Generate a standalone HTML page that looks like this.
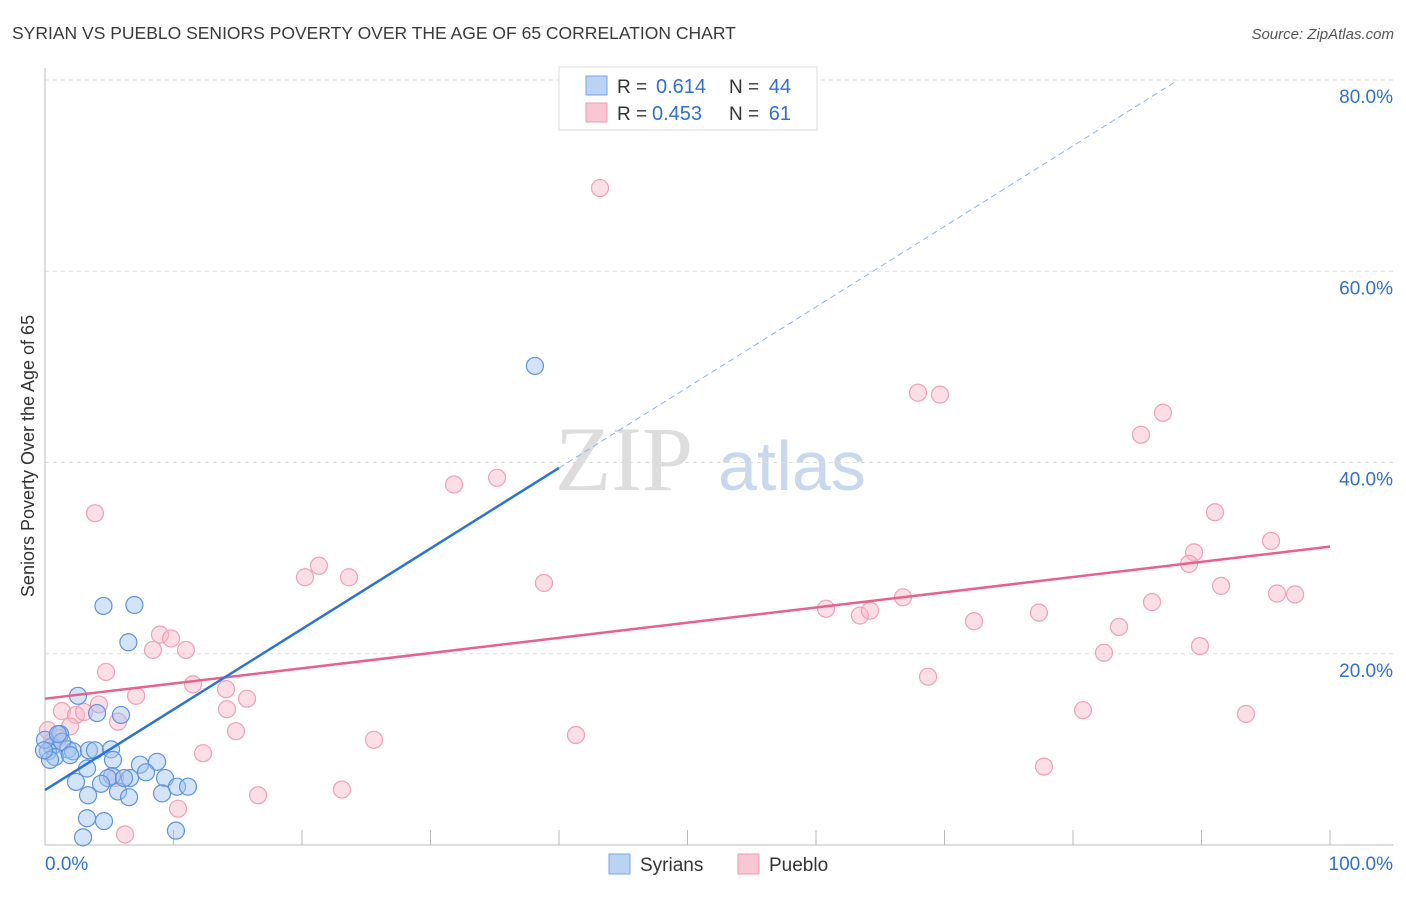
<!DOCTYPE html>
<html><head><meta charset="utf-8"><style>
body{margin:0;background:#fff;font-family:"Liberation Sans",sans-serif}
svg text{font-family:"Liberation Sans",sans-serif}
</style></head><body>
<svg id="c" width="1406" height="892">
<text x="12" y="39" font-size="17.5" fill="#3a3a3a">SYRIAN VS PUEBLO SENIORS POVERTY OVER THE AGE OF 65 CORRELATION CHART</text>
<text x="1394" y="39" font-size="15" fill="#555" font-style="italic" text-anchor="end">Source: ZipAtlas.com</text>
<text x="34" y="456" font-size="18" fill="#333" text-anchor="middle" transform="rotate(-90 34 456)">Seniors Poverty Over the Age of 65</text>
<text x="555" y="490" font-size="92" fill="#ddd" style="font-family:'Liberation Serif',serif">ZIP</text>
<text x="718" y="490" font-size="70" fill="#c8d8ee">atlas</text>
<g id="grid"></g><g id="marks"></g>
<g>
<rect x="559" y="67" width="258" height="63" fill="#fff" stroke="#ddd"/>
<rect x="586" y="76" width="21" height="19" fill="#b9d3f5" stroke="#7aa6e0"/>
<rect x="586" y="103" width="21" height="19" fill="#f9c6d4" stroke="#ef9ab2"/>
<text x="617" y="93" font-size="19" fill="#333">R =</text>
<text x="656" y="93" font-size="20" fill="#2f6fd6">0.614</text>
<text x="729" y="93" font-size="19" fill="#333">N =</text>
<text x="791" y="93" font-size="20" fill="#2f6fd6" text-anchor="end">44</text>
<text x="617" y="120" font-size="19" fill="#333">R =</text>
<text x="652" y="120" font-size="20" fill="#2f6fd6">0.453</text>
<text x="729" y="120" font-size="19" fill="#333">N =</text>
<text x="791" y="120" font-size="20" fill="#2f6fd6" text-anchor="end">61</text>
</g>
<g>
<rect x="609" y="854" width="21" height="20" fill="#b9d3f5" stroke="#7aa6e0"/>
<text x="640" y="871" font-size="19" fill="#333">Syrians</text>
<rect x="738" y="854" width="21" height="20" fill="#f9c6d4" stroke="#ef9ab2"/>
<text x="769" y="871" font-size="19" fill="#333">Pueblo</text>
</g>
</svg>
<script>
const yTicks=[20,40,60,80];
const xTickLabels=["0.0%","100.0%"];
const syrX=[4.55,6.96,6.49,2.57,4.05,5.91,1.17,0.54,1.79,0.23,0.78,2.18,3.42,3.89,5.14,5.29,3.27,7.39,8.72,5.21,6.61,4.9,2.41,4.36,7.86,9.34,5.68,3.35,3.27,4.59,6.54,9.11,10.27,11.13,2.96,10.19,38.13,0,0.39,1.32,1.95,1.01,-0.08,6.15];
const syrY=[25.0,25.1,21.2,15.6,13.8,13.6,11.6,10.3,10.0,9.8,9.2,9.8,9.9,9.9,10.0,8.9,8.0,8.4,8.7,7.2,7.0,7.0,6.6,6.4,7.6,7.0,5.6,5.2,2.8,2.5,5.0,5.4,6.1,6.1,0.8,1.5,50.1,11.0,8.9,10.8,9.4,11.6,9.9,7.0];
const pueX=[43.19,3.89,31.83,35.18,20.23,21.32,23.66,38.83,8.95,9.81,8.4,10.97,4.75,11.52,7.09,14.09,15.72,4.2,1.32,2.41,3.04,14.16,5.68,14.86,1.95,12.3,25.6,41.32,0.54,1.09,5.45,16.58,23.11,10.35,6.23,67.94,69.65,87.0,85.29,91.05,95.41,89.42,89.03,91.52,95.88,97.28,86.15,66.77,60.78,63.42,64.2,77.35,72.3,83.58,82.41,89.88,68.72,80.78,93.46,77.74,0.23];
const pueY=[68.7,34.7,37.7,38.4,28.0,29.2,28.0,27.4,22.0,21.6,20.4,20.4,18.1,16.8,15.6,16.3,15.3,14.7,14.0,13.6,13.9,14.2,12.9,11.9,12.4,9.6,11.0,11.5,10.8,11.2,7.0,5.2,5.8,3.8,1.1,47.3,47.1,45.2,42.9,34.8,31.8,30.6,29.4,27.1,26.3,26.2,25.4,25.9,24.7,24.0,24.5,24.3,23.4,22.8,20.1,20.8,17.6,14.1,13.7,8.2,12.0];
const syrLine=[5.75,0.842], pueLine=[15.3,0.159];
const X=v=>45+v*12.85, Y=v=>845-v*9.5625;
const NS="http://www.w3.org/2000/svg";
function mk(p,t,a){const e=document.createElementNS(NS,t);for(const k in a)e.setAttribute(k,a[k]);p.appendChild(e);return e;}
const g=document.getElementById('grid'), m=document.getElementById('marks');
for(const t of yTicks){
 const l=mk(g,'line',{x1:45,x2:1394,y1:Y(t),y2:Y(t),stroke:'#ddd','stroke-dasharray':'4 4'});
 
 
 const tx=mk(g,'text',{x:1393,y:Y(t)+23,'font-size':19,fill:'#2f6fd6','text-anchor':'end'});tx.textContent=t.toFixed(1)+'%';
 
 
}
const ax=mk(g,'line',{x1:45,x2:45,y1:68,y2:845,stroke:'#bbb'});


const bx=mk(g,'line',{x1:45,x2:1394,y1:845,y2:845,stroke:'#bbb'});


for(let i=1;i<=10;i++){const t=mk(g,'line',{x1:X(i*10),x2:X(i*10),y1:830,y2:845,stroke:'#bbb'});
 
 }
xTickLabels.forEach((s,i)=>{const t=mk(g,'text',{x:i?1393:45,y:870,'font-size':19,fill:'#2f6fd6','text-anchor':i?'end':'start'});t.textContent=s;
 
 });
pueX.forEach((x,i)=>{const c=mk(m,'circle',{cx:X(x),cy:Y(pueY[i]),r:8.5,fill:'rgba(247,182,200,0.45)',stroke:'#efa0b6','stroke-width':1.2});
 
 });
syrX.forEach((x,i)=>{const c=mk(m,'circle',{cx:X(x),cy:Y(syrY[i]),r:8.5,fill:'rgba(160,196,240,0.45)',stroke:'#5f93dc','stroke-width':1.2});
 
 });
const pl=mk(m,'line',{x1:X(0),y1:Y(pueLine[0]),x2:X(100),y2:Y(pueLine[0]+100*pueLine[1]),stroke:'#e8608c','stroke-width':2.5});


const sl=mk(m,'line',{x1:X(0),y1:Y(syrLine[0]),x2:X(40),y2:Y(syrLine[0]+40*syrLine[1]),stroke:'#2b74d6','stroke-width':2.5});


const xe=(80-syrLine[0])/syrLine[1];
const sd=mk(m,'line',{x1:X(40),y1:Y(syrLine[0]+40*syrLine[1]),x2:X(xe),y2:Y(80),stroke:'#8fb3e6','stroke-width':1,'stroke-dasharray':'6 4'});


</script>
</body></html>
